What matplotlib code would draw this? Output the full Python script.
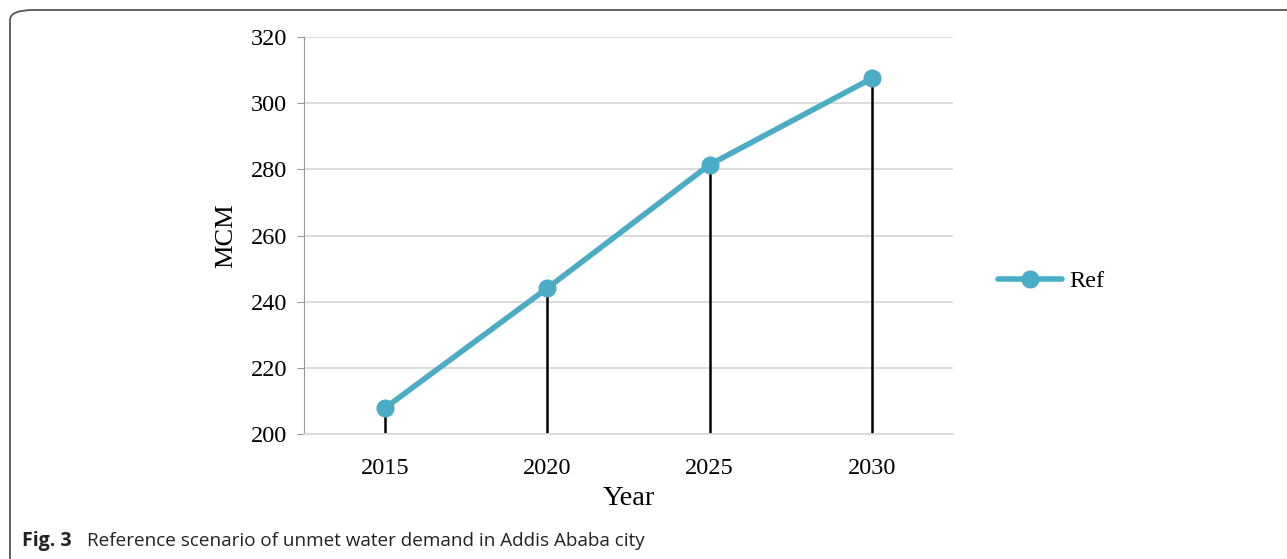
import matplotlib.pyplot as plt
from matplotlib.patches import FancyBboxPatch

years = ["2015", "2020", "2025", "2030"]
unmet_demand = [207.9, 244.1, 281.4, 307.5]
y_ticks = [200, 220, 240, 260, 280, 300, 320]

W, H = 1287, 559
fig = plt.figure(figsize=(W / 100, H / 100), dpi=100)

# cadre arrondi de la figure (ouvert en bas et à droite)
frame = FancyBboxPatch((10 / W, -0.2), 1.2, (H - 10) / H + 0.2,
                       boxstyle="round,pad=0,rounding_size=0.018",
                       transform=fig.transFigure, fill=False,
                       edgecolor="#555555", linewidth=1.3)
fig.patches.append(frame)

ax = fig.add_axes([304 / W, 1 - 434 / H, (953 - 304) / W, (434 - 37) / H])

x = list(range(len(years)))
ax.vlines(x, 200, unmet_demand, color="black", linewidth=1.8, zorder=2)
ax.plot(x, unmet_demand, color="#4BACC6", linewidth=4, marker="o",
        markersize=12, solid_capstyle="round", label="Ref", zorder=3)

ax.set_xlim(-0.5, 3.5)
ax.set_ylim(200, 320)
ax.set_yticks(y_ticks)
ax.set_xticks(x)
ax.set_xticklabels(years)
ax.grid(axis="y", color="#d9d9d9", linewidth=1.3)
ax.set_axisbelow(True)

for side in ["top", "right"]:
    ax.spines[side].set_visible(False)
ax.spines["left"].set_color("#999999")
ax.spines["bottom"].set_color("#d9d9d9")
ax.spines["bottom"].set_linewidth(1.3)
ax.tick_params(axis="y", length=5, color="#999999", pad=7)
ax.tick_params(axis="x", length=0, pad=17)

serif = "Liberation Serif"
for lab in ax.get_xticklabels() + ax.get_yticklabels():
    lab.set_fontfamily(serif)
    lab.set_fontsize(17.5)

ax.set_xlabel("Year", fontfamily=serif, fontsize=20.5, labelpad=5)
ax.set_ylabel("MCM", fontfamily=serif, fontsize=19, labelpad=10)

ax.legend(loc="center left", bbox_to_anchor=(1.035, 0.385), frameon=False,
          prop={"family": serif, "size": 17.5}, handlelength=2.65,
          handletextpad=0.3)

fig.text(22 / W, 1 - 541 / H, "Fig. 3", fontsize=14, fontweight="bold",
         fontfamily="Open Sans", va="center", color="#222222")
fig.text(87 / W, 1 - 541 / H, "Reference scenario of unmet water demand in Addis Ababa city",
         fontsize=13.6, fontfamily="Open Sans", va="center", color="#222222")

fig.savefig("out.png", dpi=100)
